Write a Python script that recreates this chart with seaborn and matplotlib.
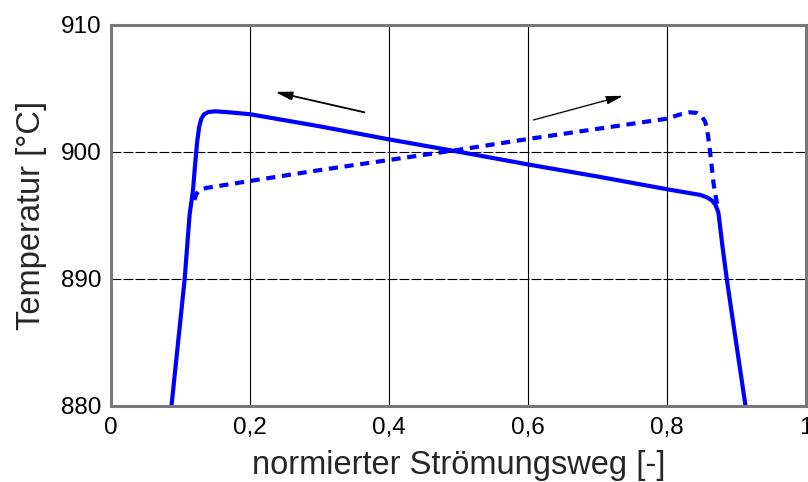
import matplotlib
matplotlib.use("Agg")
import matplotlib.pyplot as plt
import seaborn as sns
import pandas as pd

# Temperature profiles along the normalised flow path
solid_x = [0.087, 0.106, 0.113, 0.118, 0.121, 0.124, 0.127, 0.130, 0.134, 0.140,
           0.150, 0.170, 0.200, 0.300, 0.400, 0.500, 0.600, 0.700, 0.800, 0.848,
           0.858, 0.865, 0.870, 0.874, 0.880, 0.886, 0.890, 0.913]
solid_T = [880.0, 890.0, 895.0, 897.0, 899.0, 900.8, 902.0, 902.6, 902.95, 903.12,
           903.18, 903.1, 902.95, 902.0, 900.97, 900.0, 899.0, 898.05, 897.05, 896.6,
           896.4, 896.15, 895.8, 895.2, 892.5, 890.0, 888.5, 880.0]

dashed_x = [0.120, 0.123, 0.128, 0.137, 0.200, 0.300, 0.400, 0.500, 0.600, 0.700,
            0.800, 0.820, 0.833, 0.843, 0.850, 0.855, 0.858, 0.862, 0.867, 0.872]
dashed_T = [896.2, 896.7, 897.0, 897.15, 897.7, 898.55, 899.35, 900.15, 901.0, 901.8,
            902.6, 902.95, 903.1, 903.05, 902.8, 902.35, 901.7, 900.0, 897.5, 895.9]

x_ticks = [0.0, 0.2, 0.4, 0.6, 0.8, 1.0]
x_tick_labels = ["0", "0,2", "0,4", "0,6", "0,8", "1"]
y_ticks = [880, 890, 900, 910]

# Direction arrows (tail -> head)
arrow_left = ((0.3645, 903.1), (0.236, 904.7))
arrow_right = ((0.608, 902.5), (0.737, 904.4))

sns.set_style("white")
plt.rcParams["font.family"] = ["Liberation Sans", "DejaVu Sans"]

df_solid = pd.DataFrame({"x": solid_x, "T": solid_T})
df_dashed = pd.DataFrame({"x": dashed_x, "T": dashed_T})

fig = plt.figure(figsize=(8.08, 4.82), dpi=100)
ax = fig.add_axes([0.1374, 0.1577, 0.8601, 0.7913])

ax.set_xlim(0, 1)
ax.set_ylim(880, 910)
ax.set_xticks(x_ticks)
ax.set_xticklabels(x_tick_labels)
ax.set_yticks(y_ticks)

# grid: solid vertical, dashed horizontal
ax.xaxis.grid(True, color="black", linewidth=0.8, linestyle="-")
ax.yaxis.grid(True, color="black", linewidth=0.8, linestyle=(0, (9, 1.8)))
ax.set_axisbelow(True)

sns.lineplot(data=df_solid, x="x", y="T", ax=ax, sort=False, estimator=None,
             color="#0000ff", linewidth=3.0)
sns.lineplot(data=df_dashed, x="x", y="T", ax=ax, sort=False, estimator=None,
             color="#0000ff", linewidth=3.0, linestyle=(0, (2.2, 1.6)))

ax.annotate("", xy=arrow_left[1], xytext=arrow_left[0],
            arrowprops=dict(arrowstyle="-|>,head_length=1.0,head_width=0.25",
                            color="#505050", linewidth=1.3, fc="black", ec="black",
                            shrinkA=0, shrinkB=0))
ax.annotate("", xy=arrow_right[1], xytext=arrow_right[0],
            arrowprops=dict(arrowstyle="-|>,head_length=1.0,head_width=0.25",
                            color="#303030", linewidth=1.0, linestyle=(0, (2, 0.8)),
                            fc="black", ec="black", shrinkA=0, shrinkB=0))

for side in ["left", "right", "top", "bottom"]:
    ax.spines[side].set_visible(True)
    ax.spines[side].set_color("#787878")
    ax.spines[side].set_linewidth(2.2)

ax.tick_params(axis="both", length=0, labelsize=17.5, colors="black")
ax.tick_params(axis="y", pad=7)
ax.tick_params(axis="x", pad=8)

ax.set_xlabel("normierter Strömungsweg [-]", fontsize=23.5, labelpad=8)
ax.set_ylabel("Temperatur [°C]", fontsize=23.5, labelpad=10)

fig.savefig("out.png", dpi=100)
